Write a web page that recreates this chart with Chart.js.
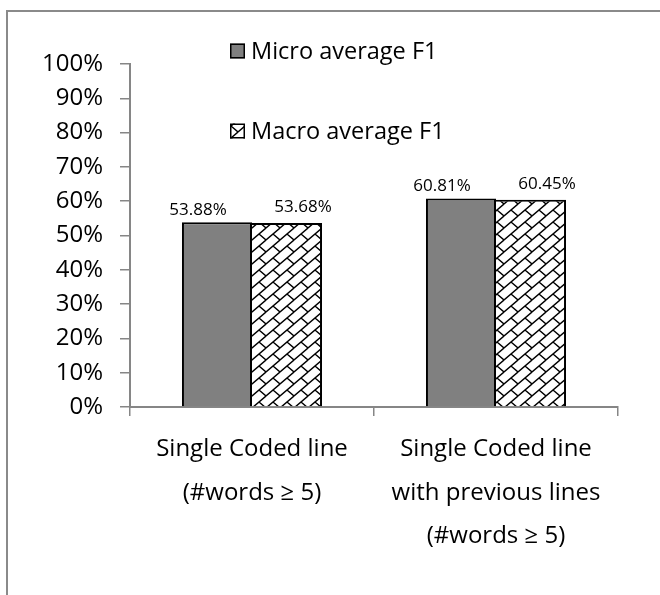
<!DOCTYPE html>
<html>
<head>
<meta charset="utf-8">
<script src="https://cdn.jsdelivr.net/npm/chart.js@4"></script>
<style>
  html, body { margin: 0; padding: 0; background: #fff; }
  canvas { display: block; }
</style>
</head>
<body>
<canvas id="c" width="660" height="595"></canvas>
<script>
// ---- data ----
const categories = [
  ["Single Coded line", "(#words \u2265 5)"],
  ["Single Coded line", "with previous lines", "(#words \u2265 5)"]
];
const seriesNames = ["Micro average F1", "Macro average F1"];
const microF1 = [0.5388, 0.6081];
const macroF1 = [0.5368, 0.6045];
const yTickValues = [0, 0.1, 0.2, 0.3, 0.4, 0.5, 0.6, 0.7, 0.8, 0.9, 1.0];

const FONT = "'Open Sans', 'DejaVu Sans', sans-serif";
const AXIS_GRAY = '#868686';

// diagonal brick pattern
function makeBrickPattern() {
  const w = 14, h = 12;
  const c = document.createElement('canvas');
  c.width = w; c.height = h;
  const g = c.getContext('2d');
  g.fillStyle = '#fff';
  g.fillRect(0, 0, w, h);
  g.strokeStyle = '#000';
  g.lineWidth = 1.4;
  for (let dx = -w; dx <= w; dx += w) {
    for (let dy = -h; dy <= h; dy += h) {
      g.beginPath();
      g.moveTo(dx, dy + h); g.lineTo(dx + w, dy);
      g.moveTo(dx + w / 2, dy + h / 2); g.lineTo(dx + w, dy + h);
      g.stroke();
    }
  }
  const ctx = document.getElementById('c').getContext('2d');
  return ctx.createPattern(c, 'repeat');
}
const brick = makeBrickPattern();

const frameLegendLabels = {
  id: 'frameLegendLabels',
  beforeDraw(chart) {
    const ctx = chart.ctx;
    ctx.save();
    ctx.fillStyle = '#fff';
    ctx.fillRect(0, 0, chart.width, chart.height);
    ctx.strokeStyle = '#8a8a8a';
    ctx.lineWidth = 2;
    ctx.beginPath();
    ctx.moveTo(7, chart.height);
    ctx.lineTo(7, 11);
    ctx.lineTo(chart.width, 11);
    ctx.stroke();
    ctx.restore();
  },
  afterDatasetsDraw(chart, args, opts) {
    const ctx = chart.ctx;
    ctx.save();
    ctx.font = "17px " + FONT;
    ctx.fillStyle = '#000';
    ctx.textAlign = 'center';
    ctx.textBaseline = 'middle';
    chart.data.datasets.forEach((ds, i) => {
      const meta = chart.getDatasetMeta(i);
      meta.data.forEach((el, j) => {
        const v = ds.data[j];
        ctx.fillText((v * 100).toFixed(2) + '%', el.x + opts.labelDx[i], el.y + opts.labelDy[i]);
      });
    });
    ctx.restore();
  },
  afterDraw(chart, args, opts) {
    const ctx = chart.ctx;
    ctx.save();
    chart.data.datasets.forEach((ds, i) => {
      const cy = opts.legendY[i];
      const x = opts.legendX;
      const s = 15;
      ctx.fillStyle = ds.backgroundColor;
      ctx.fillRect(x, cy - s / 2, s, s);
      ctx.strokeStyle = '#000';
      ctx.lineWidth = 1.5;
      ctx.strokeRect(x + 0.75, cy - s / 2 + 0.75, s - 1.5, s - 1.5);
      ctx.fillStyle = '#000';
      ctx.font = "23.5px " + FONT;
      ctx.textAlign = 'left';
      ctx.textBaseline = 'middle';
      ctx.fillText(ds.label, x + s + 6, cy + 1);
    });
    ctx.restore();
  }
};

new Chart(document.getElementById('c'), {
  type: 'bar',
  data: {
    labels: categories,
    datasets: [
      { label: seriesNames[0], data: microF1, backgroundColor: '#808080', borderColor: '#000', borderWidth: 2 },
      { label: seriesNames[1], data: macroF1, backgroundColor: brick, borderColor: '#000',
        borderWidth: { top: 2, right: 2, bottom: 0, left: 0 } }
    ]
  },
  options: {
    responsive: false,
    animation: false,
    devicePixelRatio: 1,
    layout: { padding: { left: 0, right: 42, top: 64, bottom: 0 } },
    datasets: { bar: { categoryPercentage: 0.574, barPercentage: 1.0, borderSkipped: 'start' } },
    plugins: {
      legend: { display: false },
      tooltip: { enabled: false },
      frameLegendLabels: {
        labelDx: [-19, 16],
        labelDy: [-12, -16],
        legendX: 230,
        legendY: [51, 131]
      }
    },
    scales: {
      y: {
        min: 0, max: 1,
        afterBuildTicks(scale) { scale.ticks = yTickValues.map(v => ({ value: v })); },
        afterFit(scale) { scale.width = 130; },
        ticks: {
          font: { size: 24, family: FONT },
          color: '#000',
          padding: 17,
          callback: v => Math.round(v * 100) + '%'
        },
        grid: { drawOnChartArea: false, drawTicks: true, tickLength: 10, color: AXIS_GRAY, lineWidth: 1.5 },
        border: { display: true, color: AXIS_GRAY, width: 2 }
      },
      x: {
        afterFit(scale) { scale.height = 188; },
        ticks: {
          font: { size: 24, family: FONT, lineHeight: 1.8 },
          color: '#000',
          padding: 12,
          maxRotation: 0, minRotation: 0, autoSkip: false
        },
        grid: { offset: true, drawOnChartArea: false, drawTicks: true, tickLength: 9, color: AXIS_GRAY, lineWidth: 1.5 },
        border: { display: true, color: AXIS_GRAY, width: 2 }
      }
    }
  },
  plugins: [frameLegendLabels]
});
</script>
</body>
</html>
